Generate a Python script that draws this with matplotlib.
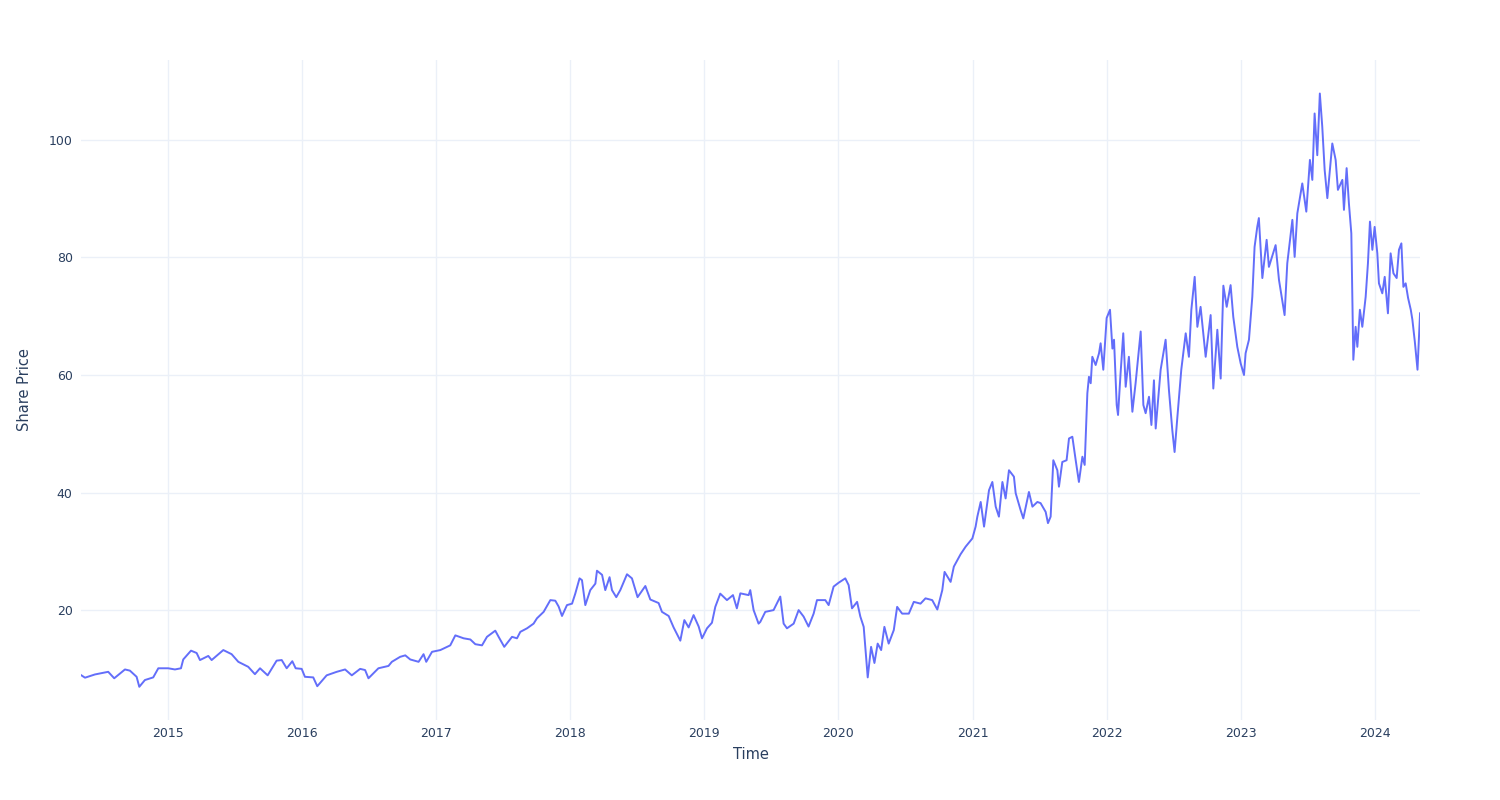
import matplotlib
matplotlib.use("Agg")
import matplotlib.pyplot as plt
import matplotlib.dates as mdates
import pandas as pd

# time as decimal years
t = [2014.351, 2014.381, 2014.455, 2014.554, 2014.599, 2014.679, 2014.716, 2014.766, 2014.786, 2014.828,
     2014.890, 2014.928, 2015.002, 2015.052, 2015.097, 2015.114, 2015.172, 2015.214, 2015.239, 2015.301,
     2015.326, 2015.413, 2015.475, 2015.525, 2015.599, 2015.649, 2015.687, 2015.744, 2015.811, 2015.849,
     2015.886, 2015.928, 2015.953, 2015.998, 2016.022, 2016.084, 2016.114, 2016.184, 2016.259, 2016.321,
     2016.371, 2016.433, 2016.470, 2016.495, 2016.569, 2016.644, 2016.669, 2016.731, 2016.769, 2016.806,
     2016.868, 2016.905, 2016.925, 2016.968, 2017.030, 2017.104, 2017.142, 2017.204, 2017.254, 2017.291,
     2017.341, 2017.378, 2017.440, 2017.465, 2017.507, 2017.565, 2017.602, 2017.627, 2017.677, 2017.726,
     2017.751, 2017.801, 2017.851, 2017.888, 2017.913, 2017.938, 2017.975, 2018.013, 2018.037, 2018.069,
     2018.087, 2018.112, 2018.149, 2018.187, 2018.199, 2018.237, 2018.261, 2018.293, 2018.311, 2018.343,
     2018.373, 2018.423, 2018.460, 2018.502, 2018.560, 2018.597, 2018.659, 2018.684, 2018.734, 2018.771,
     2018.821, 2018.851, 2018.883, 2018.920, 2018.958, 2018.983, 2019.020, 2019.057, 2019.082, 2019.119,
     2019.169, 2019.214, 2019.243, 2019.269, 2019.331, 2019.343, 2019.368, 2019.405, 2019.418, 2019.455,
     2019.517, 2019.567, 2019.592, 2019.617, 2019.667, 2019.704, 2019.741, 2019.778, 2019.816, 2019.841,
     2019.903, 2019.928, 2019.965, 2020.002, 2020.052, 2020.077, 2020.102, 2020.140, 2020.164, 2020.189,
     2020.219, 2020.244, 2020.269, 2020.293, 2020.319, 2020.343, 2020.375, 2020.413, 2020.438, 2020.475,
     2020.525, 2020.562, 2020.612, 2020.649, 2020.699, 2020.737, 2020.774, 2020.791, 2020.836, 2020.860,
     2020.910, 2020.948, 2020.998, 2021.022, 2021.035, 2021.060, 2021.085, 2021.122, 2021.147, 2021.172,
     2021.196, 2021.222, 2021.246, 2021.271, 2021.308, 2021.321, 2021.358, 2021.378, 2021.420, 2021.446,
     2021.483, 2021.507, 2021.545, 2021.562, 2021.582, 2021.602, 2021.632, 2021.644, 2021.669, 2021.701,
     2021.719, 2021.744, 2021.769, 2021.793, 2021.819, 2021.836, 2021.856, 2021.868, 2021.881, 2021.893,
     2021.918, 2021.943, 2021.955, 2021.975, 2022.000, 2022.025, 2022.043, 2022.055, 2022.075, 2022.085,
     2022.104, 2022.124, 2022.142, 2022.166, 2022.192, 2022.216, 2022.254, 2022.274, 2022.291, 2022.316,
     2022.334, 2022.353, 2022.366, 2022.390, 2022.403, 2022.440, 2022.465, 2022.490, 2022.507, 2022.528,
     2022.557, 2022.590, 2022.614, 2022.632, 2022.657, 2022.677, 2022.701, 2022.739, 2022.776, 2022.796,
     2022.826, 2022.851, 2022.871, 2022.896, 2022.925, 2022.945, 2022.975, 2023.000, 2023.025, 2023.037,
     2023.062, 2023.087, 2023.104, 2023.124, 2023.136, 2023.162, 2023.194, 2023.211, 2023.261, 2023.286,
     2023.328, 2023.348, 2023.386, 2023.403, 2023.423, 2023.460, 2023.490, 2023.517, 2023.535, 2023.552,
     2023.572, 2023.591, 2023.609, 2023.627, 2023.647, 2023.666, 2023.684, 2023.709, 2023.726, 2023.759,
     2023.771, 2023.791, 2023.808, 2023.826, 2023.841, 2023.858, 2023.871, 2023.890, 2023.908, 2023.933,
     2023.950, 2023.965, 2023.983, 2024.000, 2024.020, 2024.032, 2024.057, 2024.075, 2024.099, 2024.119,
     2024.140, 2024.164, 2024.181, 2024.199, 2024.214, 2024.231, 2024.249, 2024.269, 2024.281, 2024.299,
     2024.319, 2024.338]

price = [8.94, 8.5, 9.05, 9.5, 8.4, 9.9, 9.7, 8.65, 6.95, 8.1,
         8.55, 10.1, 10.1, 9.9, 10.1, 11.6, 13.1, 12.7, 11.5, 12.2,
         11.5, 13.2, 12.5, 11.2, 10.35, 9.1, 10.1, 8.9, 11.4, 11.5,
         10.1, 11.3, 10.1, 10.0, 8.65, 8.55, 7.05, 8.9, 9.5, 9.9,
         8.9, 10.0, 9.8, 8.4, 10.1, 10.5, 11.2, 12.05, 12.3, 11.6,
         11.2, 12.5, 11.2, 12.9, 13.2, 14.0, 15.7, 15.2, 15.0, 14.2,
         14.0, 15.45, 16.5, 15.45, 13.75, 15.45, 15.2, 16.3, 16.9, 17.7,
         18.6, 19.7, 21.7, 21.6, 20.6, 19.0, 20.85, 21.1, 22.8, 25.4,
         25.1, 20.85, 23.4, 24.5, 26.7, 26.0, 23.4, 25.6, 23.4, 22.2,
         23.4, 26.1, 25.4, 22.2, 24.1, 21.8, 21.2, 19.7, 19.0, 17.05,
         14.8, 18.3, 17.05, 19.15, 17.2, 15.2, 16.9, 17.85, 20.55, 22.8,
         21.7, 22.55, 20.3, 22.85, 22.55, 23.4, 20.0, 17.7, 18.0, 19.7,
         20.0, 22.3, 17.7, 16.9, 17.7, 20.0, 18.9, 17.2, 19.4, 21.7,
         21.7, 20.85, 24.0, 24.65, 25.4, 24.25, 20.3, 21.4, 18.9, 17.15,
         8.55, 13.75, 11.0, 14.3, 13.2, 17.15, 14.3, 16.6, 20.55, 19.4,
         19.4, 21.4, 21.1, 22.0, 21.7, 20.1, 23.4, 26.5, 24.8, 27.4,
         29.5, 30.8, 32.2, 34.2, 35.9, 38.4, 34.2, 40.4, 41.8, 37.6,
         35.9, 41.8, 39.0, 43.8, 42.7, 39.9, 37.0, 35.6, 40.1, 37.6,
         38.4, 38.2, 36.7, 34.8, 35.9, 45.5, 43.8, 41.0, 45.2, 45.5,
         49.2, 49.5, 45.5, 41.8, 46.1, 44.7, 56.9, 59.7, 58.6, 63.1,
         61.7, 63.7, 65.4, 60.9, 69.7, 71.1, 64.5, 66.0, 54.9, 53.2,
         60.3, 67.1, 58.0, 63.1, 53.75, 58.6, 67.4, 54.9, 53.5, 56.3,
         51.5, 59.1, 50.9, 57.4, 60.9, 66.0, 57.4, 50.6, 46.9, 52.9,
         60.9, 67.1, 63.1, 71.1, 76.7, 68.2, 71.6, 63.1, 70.2, 57.7,
         67.7, 59.4, 75.2, 71.6, 75.3, 69.9, 64.8, 62.0, 60.0, 63.7,
         66.0, 73.3, 81.8, 85.2, 86.7, 76.5, 83.0, 78.4, 82.1, 76.2,
         70.2, 79.0, 86.4, 80.1, 87.5, 92.6, 87.8, 96.6, 93.2, 104.5,
         97.4, 107.9, 102.3, 94.9, 90.1, 94.9, 99.4, 96.6, 91.5, 93.2,
         88.1, 95.2, 89.2, 84.1, 62.6, 68.2, 64.8, 71.1, 68.2, 73.3,
         79.0, 86.1, 81.3, 85.2, 80.7, 75.6, 73.9, 76.7, 70.5, 80.7,
         77.3, 76.5, 81.3, 82.4, 75.0, 75.6, 73.1, 71.1, 69.4, 65.7,
         60.9, 70.5]

year_ticks = list(range(2015, 2025))
price_ticks = [20, 40, 60, 80, 100]


def to_date(y):
    yr = int(y)
    start = pd.Timestamp(yr, 1, 1)
    span = pd.Timestamp(yr + 1, 1, 1) - start
    return start + (y - yr) * span


dates = [to_date(v) for v in t]

fig = plt.figure(figsize=(15, 8), dpi=100)
ax = fig.add_axes([0.054, 0.1, 0.8927, 0.825])

ax.plot(dates, price, color="#636efa", lw=1.4, solid_joinstyle="round")

ax.set_xlim(dates[0], dates[-1])
ax.set_ylim(1.3, 113.6)
ax.set_xticks([pd.Timestamp(y, 1, 1) for y in year_ticks])
ax.xaxis.set_major_formatter(mdates.DateFormatter("%Y"))
ax.set_yticks(price_ticks)

for s in ax.spines.values():
    s.set_visible(False)
ax.grid(True, color="#EBF0F8", lw=1)
ax.set_axisbelow(True)
ax.tick_params(length=0, labelsize=9, labelcolor="#2a3f5f", pad=6)
ax.tick_params(axis="x", pad=5)

ax.set_xlabel("Time", fontsize=10.5, color="#2a3f5f", labelpad=5)
ax.set_ylabel("Share Price", fontsize=10.5, color="#2a3f5f", labelpad=12)

fig.savefig("out.png", dpi=100, facecolor="white")
